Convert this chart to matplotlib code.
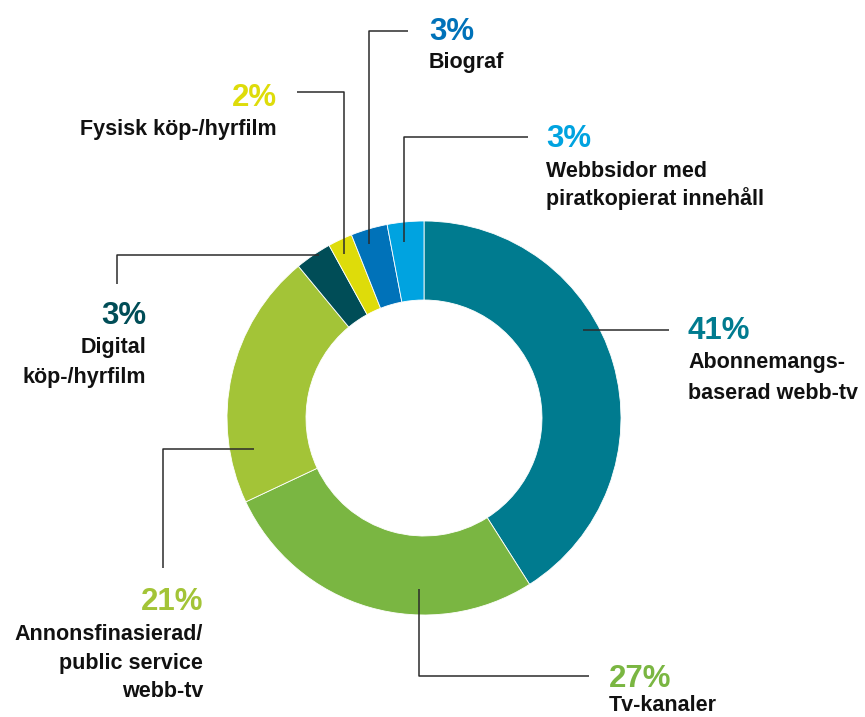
import matplotlib
matplotlib.use("Agg")
import matplotlib.pyplot as plt

# ---- data ----
categories = [
    "Abonnemangs-\nbaserad webb-tv",
    "Tv-kanaler",
    "Annonsfinasierad/\npublic service\nwebb-tv",
    "Digital\nköp-/hyrfilm",
    "Fysisk köp-/hyrfilm",
    "Biograf",
    "Webbsidor med\npiratkopierat innehåll",
]
values = [41, 27, 21, 3, 2, 3, 3]
pct_labels = ["41%", "27%", "21%", "3%", "2%", "3%", "3%"]

# ---- styles ----
colors = ["#007b8f", "#7ab642", "#a3c437", "#004d57", "#dedc0a", "#0072b9", "#00a3e0"]
pct_colors = ["#007b8f", "#7ab642", "#a3c437", "#004d57", "#dedc0a", "#0072b9", "#00a3e0"]

W, H = 865, 717
FONT = "Liberation Sans"

fig = plt.figure(figsize=(W / 100, H / 100), dpi=100)
ax = fig.add_axes([0, 0, 1, 1])

cx, cy, R, ring = 424, 418, 197, 79
ax.pie(values, colors=colors, startangle=90, counterclock=False,
       center=(cx, H - cy), radius=R,
       wedgeprops=dict(width=ring, edgecolor="white", linewidth=0.6))
ax.set_xlim(0, W)
ax.set_ylim(0, H)
ax.set_aspect("equal")
ax.axis("off")

# layout: (x, ha, pct baseline, label line baselines) in pixel coords (y down)
layout = [
    (688, "left", 339, [368, 399]),
    (609, "left", 687, [711]),
    (203, "right", 610, [640, 669, 697]),
    (146, "right", 324, [353, 383]),
    (277, "right", 106, [135]),
    (429, "left", 40, [68]),
    (546, "left", 147, [177, 205]),
]
leaders = [
    [(583, 330), (669, 330)],
    [(419, 589), (419, 676), (589, 676)],
    [(254, 449), (163, 449), (163, 568)],
    [(319, 255), (117, 255), (117, 284)],
    [(344, 254), (344, 92), (297, 92)],
    [(369, 244), (369, 31), (408, 31)],
    [(404, 242), (404, 137), (528, 137)],
]

for pts in leaders:
    xs = [p[0] for p in pts]
    ys = [H - p[1] for p in pts]
    ax.plot(xs, ys, color="#2b2b2b", lw=1.1, solid_capstyle="butt", zorder=5)

for cat, pct, pc, (x, ha, pb, lbs) in zip(categories, pct_labels, pct_colors, layout):
    ax.text(x, H - pb, pct, ha=ha, va="baseline", fontsize=22.5,
            fontweight="bold", color=pc, family=FONT)
    for line, b in zip(cat.split("\n"), lbs):
        ax.text(x, H - b, line, ha=ha, va="baseline", fontsize=15.5,
                fontweight="bold", color="#111111", family=FONT)

fig.savefig("out.png", dpi=100)
